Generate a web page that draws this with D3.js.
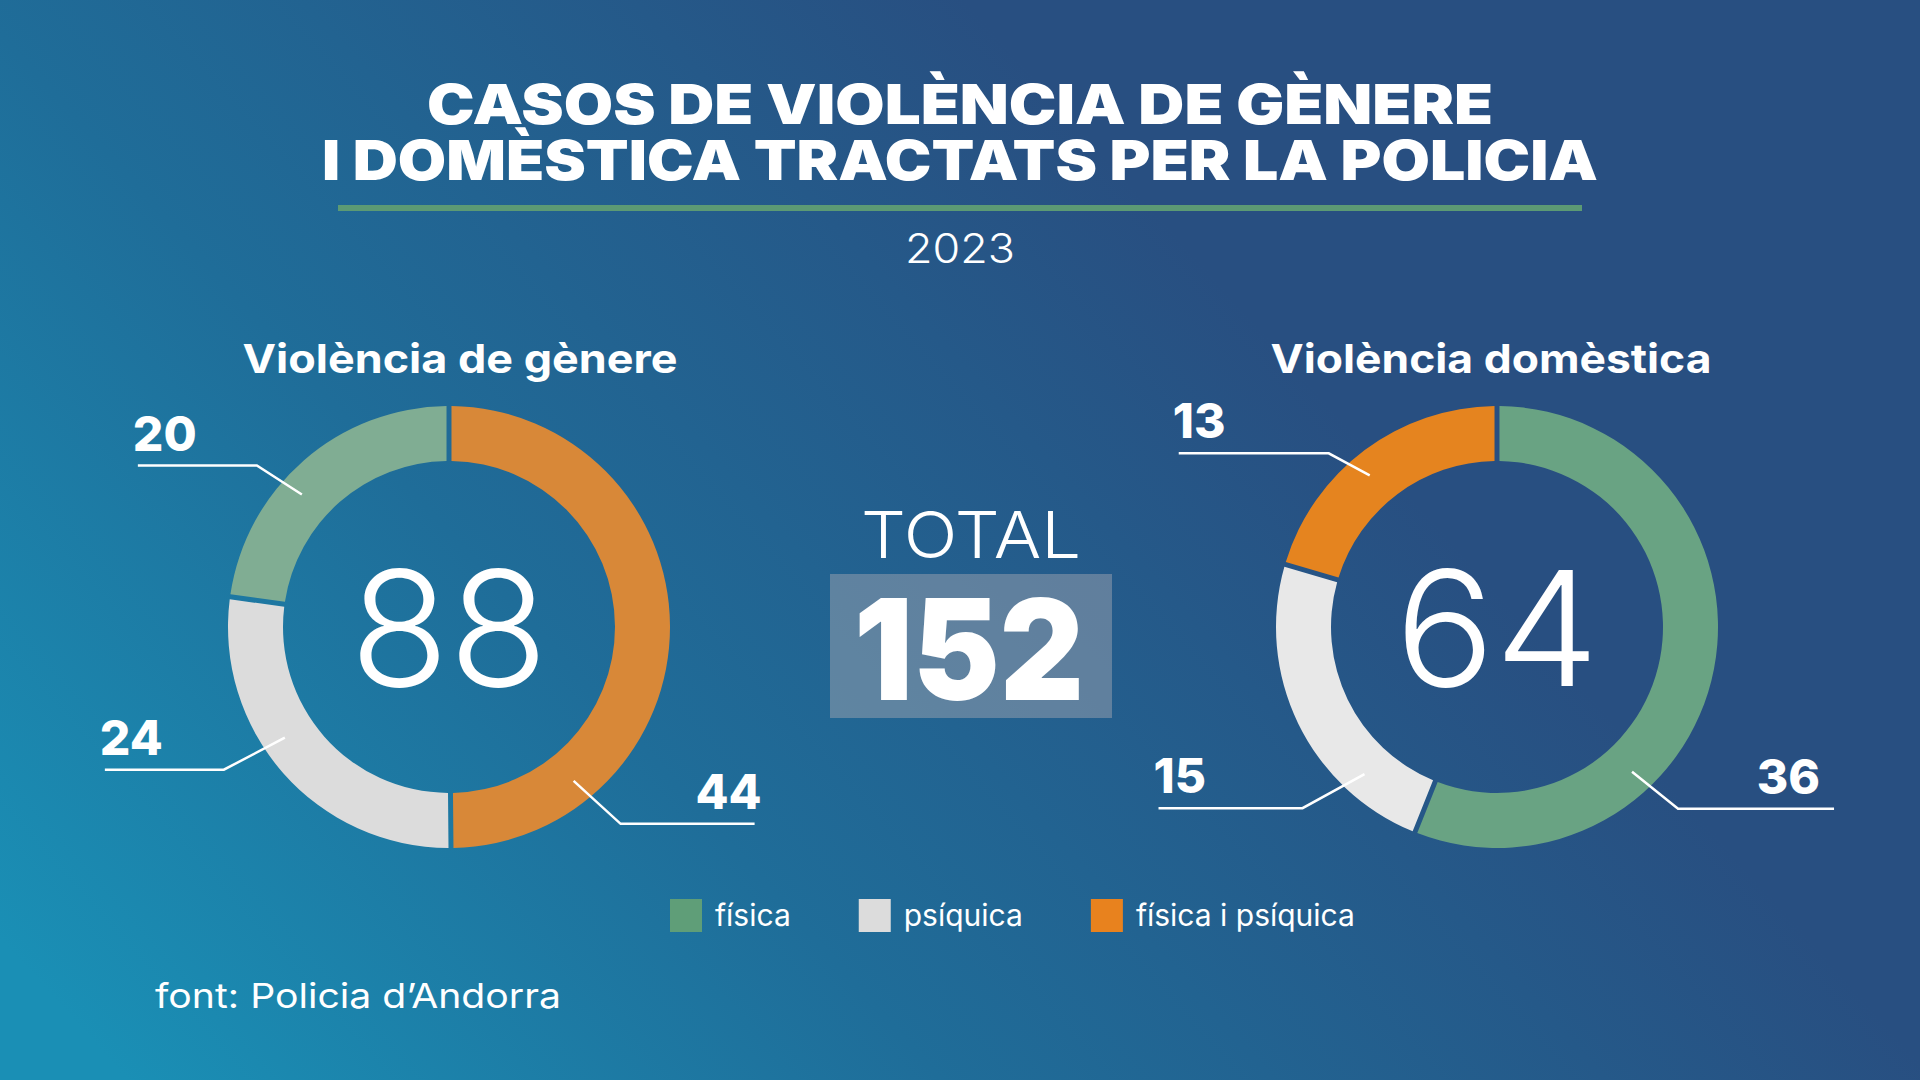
<!DOCTYPE html>
<html><head><meta charset="utf-8">
<script src="https://cdn.jsdelivr.net/npm/d3@7"></script>
<style>html,body{margin:0;padding:0;overflow:hidden;background:#1f6592}</style>
</head><body><svg id="c" width="1920" height="1080"></svg>
<script>
// ---------- data ----------
const titleLines = ["CASOS DE VIOLÈNCIA DE GÈNERE", "I DOMÈSTICA TRACTATS PER LA POLICIA"];
const year = "2023";
const categories = ["física", "psíquica", "física i psíquica"];
const genereLabel = "Violència de gènere";
const genereCats = ["física i psíquica", "psíquica", "física"];
const genereValues = [44, 24, 20];
const domesticaLabel = "Violència domèstica";
const domesticaCats = ["física", "psíquica", "física i psíquica"];
const domesticaValues = [36, 15, 13];
const totalLabel = "TOTAL";
const sourceText = "font: Policia d’Andorra";

// ---------- styles / layout ----------
const W = 1920, H = 1080;
const legendColors = {"física": "#5f9e78", "psíquica": "#dcdcdc", "física i psíquica": "#e8821e"};
const genereColors = {"física": "#80ad93", "psíquica": "#dcdcdc", "física i psíquica": "#d88838"};
const domesticaColors = {"física": "url(#gGreen)", "psíquica": "url(#gGrey)", "física i psíquica": "#e5841f"};
// leader layout per slice (angle in degrees, knee offset, tail length, label dx)
const genereLeaders = [
  {ang: 141, kx: 47, ky: 43, tail: 134, side: 1, dx: 7},
  {ang: 236, kx: -61, ky: 32, tail: -119, side: -1, dx: -5},
  {ang: 312, kx: -45, ky: -29, tail: -119, side: -1, dx: -5}
];
const domesticaLeaders = [
  {ang: 137, kx: 46, ky: 37, tail: 156, side: 1, dx: -14},
  {ang: 222, kx: -62, ky: 34, tail: -144, side: -1, dx: -5},
  {ang: 320, kx: -41, ky: -22, tail: -150, side: -1, dx: -6}
];

const svg = d3.select("#c");
const defs = svg.append("defs");
const bg = defs.append("linearGradient").attr("id", "bg").attr("gradientUnits", "userSpaceOnUse")
  .attr("x1", 100).attr("y1", 1050).attr("x2", 1100).attr("y2", 150);
bg.append("stop").attr("offset", 0).attr("stop-color", "#1a8fb5");
bg.append("stop").attr("offset", 0.45).attr("stop-color", "#1f6d99");
bg.append("stop").attr("offset", 1).attr("stop-color", "#284f81");
const gg = defs.append("linearGradient").attr("id", "gGreen").attr("gradientUnits", "userSpaceOnUse")
  .attr("x1", 0).attr("y1", 406).attr("x2", 0).attr("y2", 848);
gg.append("stop").attr("offset", 0).attr("stop-color", "#69a383");
gg.append("stop").attr("offset", 1).attr("stop-color", "#89b499");
const gy = defs.append("linearGradient").attr("id", "gGrey").attr("gradientUnits", "userSpaceOnUse")
  .attr("x1", 0).attr("y1", 406).attr("x2", 0).attr("y2", 848);
gy.append("stop").attr("offset", 0).attr("stop-color", "#e8e8e8");
gy.append("stop").attr("offset", 1).attr("stop-color", "#dcdcdc");

svg.append("rect").attr("width", W).attr("height", H).attr("fill", "url(#bg)");

const FONT = "Inter, 'Open Sans', sans-serif";
function fit(sel, w) {
  const n = sel.node();
  const cur = n.getComputedTextLength();
  if (Math.abs(cur - w) > 1) sel.attr("textLength", w).attr("lengthAdjust", "spacingAndGlyphs");
  return sel;
}
function txt(x, y, s, size, weight, anchor) {
  return svg.append("text").attr("x", x).attr("y", y).text(s)
    .attr("font-family", FONT).attr("font-size", size).attr("font-weight", weight)
    .attr("fill", "#fff").attr("text-anchor", anchor || "middle");
}

// ---------- title ----------
fit(txt(960, 124, titleLines[0], 55, 900), 1066);
fit(txt(960, 180, titleLines[1], 55, 900), 1276);
svg.append("rect").attr("x", 338).attr("y", 205).attr("width", 1244).attr("height", 6).attr("fill", "#5c9a74");
fit(txt(960, 263, year, 41, 300), 110);

// ---------- donuts ----------
const rOuter = 221, rInner = 166, rAnchor = 198;
const pie = d3.pie().sort(null).value(d => d.value).padAngle(0.018);
const arc = d3.arc().innerRadius(rInner).outerRadius(rOuter);

function donut(cx, cy, label, labelX, labelW, cats, values, colors, leaders, numW) {
  const data = cats.map((c, i) => ({cat: c, value: values[i]}));
  const g = svg.append("g").attr("transform", `translate(${cx},${cy})`);
  g.selectAll("path").data(pie(data)).join("path")
    .attr("d", arc).attr("fill", d => colors[d.data.cat]);
  fit(txt(labelX, 373, label, 40, 700), labelW);
  const tot = d3.sum(values);
  fit(txt(cx, 686, String(tot), 160, 300), numW);
  data.forEach((d, i) => {
    const L = leaders[i];
    const a = L.ang * Math.PI / 180;
    const x0 = cx + rAnchor * Math.sin(a), y0 = cy - rAnchor * Math.cos(a);
    const x1 = x0 + L.kx, y1 = y0 + L.ky;
    const x2 = x1 + L.tail;
    svg.append("polyline").attr("points", `${x0},${y0} ${x1},${y1} ${x2},${y1}`)
      .attr("fill", "none").attr("stroke", "#fff").attr("stroke-width", 2.5);
    txt(x2 + L.dx, y1 - 15, String(d.value), 48, 800, L.side > 0 ? "end" : "start");
  });
}
donut(449, 627, genereLabel, 460, 435, genereCats, genereValues, genereColors, genereLeaders, 198);
donut(1497, 627, domesticaLabel, 1491, 441, domesticaCats, domesticaValues, domesticaColors, domesticaLeaders, 204);

// ---------- total ----------
fit(txt(971, 558, totalLabel, 64, 300), 220);
svg.append("rect").attr("x", 830).attr("y", 574).attr("width", 282).attr("height", 144)
  .attr("fill", "#aaaab4").attr("fill-opacity", 0.45);
fit(txt(969, 700, String(d3.sum(genereValues) + d3.sum(domesticaValues)), 140, 900), 230);

// ---------- legend ----------
let lx = 670;
categories.forEach(c => {
  svg.append("rect").attr("x", lx).attr("y", 899).attr("width", 32).attr("height", 33).attr("fill", legendColors[c]);
  const t = txt(lx + 45, 926, c, 30, 400, "start");
  lx += 45 + t.node().getComputedTextLength() + 68;
});

// ---------- source ----------
fit(txt(155, 1008, sourceText, 34, 400, "start"), 406);
</script></body></html>
